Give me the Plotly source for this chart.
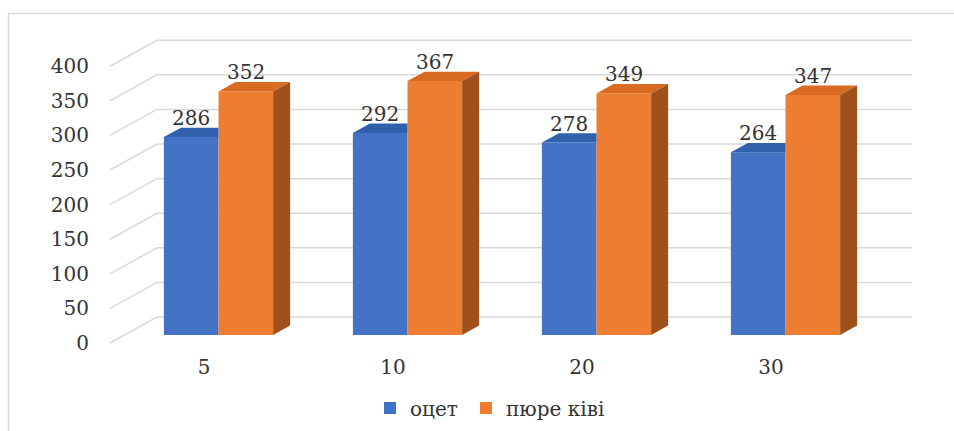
import plotly.graph_objects as go

# ---- data -------------------------------------------------------------
categories = ["5", "10", "20", "30"]
vinegar = [286, 292, 278, 264]     # оцет
kiwi = [352, 367, 349, 347]        # пюре ківі
series_names = ["оцет", "пюре ківі"]
y_ticks = [0, 50, 100, 150, 200, 250, 300, 350, 400]

# ---- geometry of the pseudo-3D view -----------------------------------
W, H = 954, 431
PX_PER_CAT = 189.0        # horizontal pixels between category groups
PX_PER_UNIT = 0.692       # vertical pixels per value unit
ORIGIN_X = 218.5          # pixel x of the first group's centre
ORIGIN_Y = 335.0          # pixel y of value 0 on the bars' front plane
SLOPE = 0.553             # oblique projection: rise per unit of depth run
BAR_W = 0.289             # bar width in category units
BAR_DEPTH = 17            # depth of the bars (px of run)
WALL_DEPTH = 32.5         # back wall, behind the bar front plane
FRONT_DEPTH = -14.5       # front edge of the floor, in front of the bars
WALL_LEFT_PX = 124.5      # left edge of the floor on the bar plane
WALL_RIGHT_PX = 912.0     # right end of the back-wall grid

x_range = [-ORIGIN_X / PX_PER_CAT, (W - ORIGIN_X) / PX_PER_CAT]
y_range = [-(H - ORIGIN_Y) / PX_PER_UNIT, ORIGIN_Y / PX_PER_UNIT]


def depth(k):
    """Offset (dx, dy) in data units for k px of depth."""
    return k / PX_PER_CAT, k * SLOPE / PX_PER_UNIT


BLUE, BLUE_TOP = "#4472C4", "#3160AD"
ORANGE, ORANGE_TOP, ORANGE_SIDE = "#ED7D31", "#D86A22", "#A0501A"
GRID = "#d9d9d9"
TEXT = "#333333"
FONT = "DejaVu Serif"
FONT_SIZE = 20

positions = list(range(len(categories)))
bdx, bdy = depth(BAR_DEPTH)

fig = go.Figure()

# front faces of the bars (each series gets its own legend box)
fig.add_trace(go.Bar(x=positions, y=vinegar, width=BAR_W, offset=-BAR_W,
                     marker=dict(color=BLUE, line=dict(width=0)),
                     name=series_names[0], legend="legend"))
fig.add_trace(go.Bar(x=positions, y=kiwi, width=BAR_W, offset=0,
                     marker=dict(color=ORANGE, line=dict(width=0)),
                     name=series_names[1], legend="legend2"))


def poly(xs, ys, color):
    fig.add_trace(go.Scatter(x=xs + [xs[0]], y=ys + [ys[0]], mode="lines",
                             fill="toself", fillcolor=color,
                             line=dict(width=0, color=color),
                             hoverinfo="skip", showlegend=False))


for i, (vb, vo) in zip(positions, zip(vinegar, kiwi)):
    # blue top (its right part is hidden behind the taller orange bar)
    x0, x1 = i - BAR_W, i
    poly([x0, x1, x1, x0 + bdx], [vb, vb, vb + bdy, vb + bdy], BLUE_TOP)
    # orange top and side
    x0, x1 = i, i + BAR_W
    poly([x0, x1, x1 + bdx, x0 + bdx], [vo, vo, vo + bdy, vo + bdy], ORANGE_TOP)
    poly([x1, x1 + bdx, x1 + bdx, x1], [0, bdy, vo + bdy, vo], ORANGE_SIDE)

# value labels above each bar
annotations = []
for i, (vb, vo) in zip(positions, zip(vinegar, kiwi)):
    for xc, v in ((i - BAR_W / 2, vb), (i + BAR_W / 2, vo)):
        annotations.append(dict(x=xc, y=v, xref="x", yref="y", text=str(v),
                                showarrow=False, yshift=19, yanchor="middle",
                                font=dict(family=FONT, size=FONT_SIZE,
                                          color=TEXT)))

# gridlines: slanted along the left wall, then flat along the back wall
fdx, fdy = depth(FRONT_DEPTH)
wdx, wdy = depth(WALL_DEPTH)
x_left = (WALL_LEFT_PX - ORIGIN_X) / PX_PER_CAT
x_right = (WALL_RIGHT_PX - ORIGIN_X) / PX_PER_CAT
shapes = []
for v in y_ticks:
    path = (f"M {x_left + fdx},{v + fdy} L {x_left + wdx},{v + wdy} "
            f"L {x_right},{v + wdy}")
    shapes.append(dict(type="path", path=path, xref="x", yref="y",
                       layer="below", line=dict(color=GRID, width=1.5)))
# outer chart frame
shapes.append(dict(type="rect", xref="paper", yref="paper",
                   x0=8.5 / W, x1=1.05, y0=-0.05, y1=1 - 13.5 / H,
                   layer="below", line=dict(color=GRID, width=1.5)))

# helper trace so that the shifted label axes are drawn
fig.add_trace(go.Scatter(x=[None], y=[None], xaxis="x2", yaxis="y2",
                         showlegend=False, hoverinfo="skip"))

legend_style = dict(orientation="h", xanchor="left",
                    y=1 - 408 / H, yanchor="middle",
                    font=dict(family=FONT, size=FONT_SIZE, color=TEXT),
                    bgcolor="rgba(0,0,0,0)")

fig.update_layout(
    width=W, height=H, autosize=False,
    margin=dict(l=0, r=0, t=0, b=0),
    paper_bgcolor="white", plot_bgcolor="rgba(0,0,0,0)",
    barmode="overlay",
    showlegend=True,
    legend=dict(x=370 / W, **legend_style),
    legend2=dict(x=466 / W, **legend_style),
    xaxis=dict(range=x_range, visible=False, fixedrange=True),
    yaxis=dict(range=y_range, visible=False, fixedrange=True),
    # category labels on the front edge of the floor
    xaxis2=dict(range=[x_range[0] - fdx, x_range[1] - fdx], overlaying="x",
                anchor="free", position=1 - 353 / H,
                tickvals=positions, ticktext=categories,
                showgrid=False, zeroline=False, showline=False, ticks="",
                tickfont=dict(family=FONT, size=FONT_SIZE, color=TEXT)),
    # value axis labels on the front edge of the left wall
    yaxis2=dict(range=[y_range[0] - fdy, y_range[1] - fdy], overlaying="y",
                anchor="free", position=89 / W, side="left",
                tickvals=y_ticks, showgrid=False, zeroline=False,
                showline=False, ticks="",
                tickfont=dict(family=FONT, size=FONT_SIZE, color=TEXT)),
    annotations=annotations,
    shapes=shapes,
)

fig.write_html("out.html")
